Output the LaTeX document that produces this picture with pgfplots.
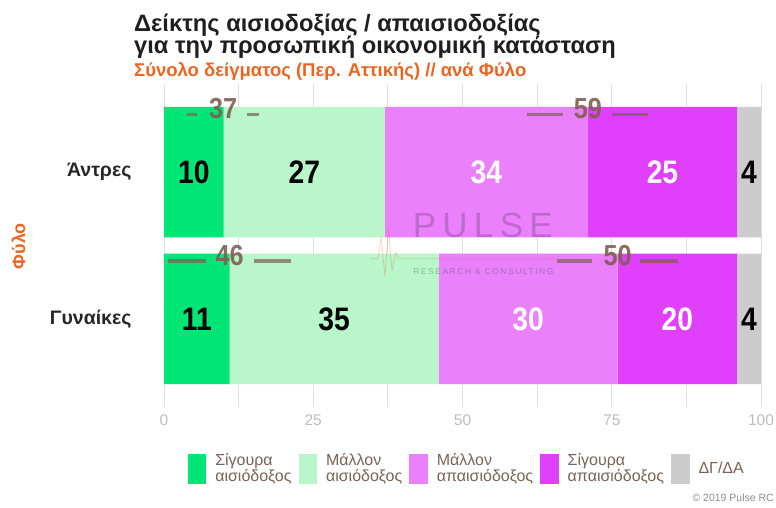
\documentclass[border=0pt]{standalone}
\usepackage{fontspec}
\setmainfont{Liberation Sans}
\newfontfamily\numfont{Liberation Sans}[FakeStretch=0.87]
\newfontfamily\wmfont{Liberation Sans}[LetterSpace=18]
\usepackage{pgfplots}
\pgfplotsset{compat=1.18}

\definecolor{gSure}{HTML}{00E676}
\definecolor{gMaybe}{HTML}{B9F6CA}
\definecolor{pMaybe}{HTML}{EA80FC}
\definecolor{pSure}{HTML}{E040FB}
\definecolor{dkna}{HTML}{CCCCCC}
\definecolor{orng}{HTML}{EB6420}
\definecolor{brn}{HTML}{7D5F52}
\definecolor{legtxt}{HTML}{7A6258}
\definecolor{ticktxt}{HTML}{BDBDBD}

\pgfplotsset{patch/.style={legend image code/.code={\fill[#1] (0pt,-15pt) rectangle (18.5pt,15pt);}}}
\tikzset{val/.style={font=\numfont\bfseries\fontsize{32.5}{33}\selectfont},
  net/.style={text=brn,opacity=0.9,font=\numfont\bfseries\fontsize{29}{29}\selectfont},
  netline/.style={brn,opacity=0.7,line width=3.5pt}}

\begin{document}
\begin{tikzpicture}[x=1pt,y=1pt]
\path[use as bounding box] (0,0) rectangle (776,507);

% titles
\node[anchor=base west,inner sep=0pt,font=\bfseries\fontsize{23.7}{28}\selectfont,text=black!88] at (134,475.3) {Δείκτης αισιοδοξίας / απαισιοδοξίας};
\node[anchor=base west,inner sep=0pt,font=\bfseries\fontsize{23.7}{28}\selectfont,text=black!88] at (134,453.5) {για την προσωπική οικονομική κατάσταση};
\node[anchor=base west,inner sep=0pt,font=\bfseries\fontsize{18.5}{20}\selectfont,text=orng] at (134,430.3) {Σύνολο δείγματος (Περ. Αττικής) // ανά Φύλο};

\begin{axis}[
  at={(164pt,100pt)}, anchor=south west,
  scale only axis, width=597pt, height=323pt,
  xbar stacked, bar width=0.89,
  xmin=0, xmax=100, ymin=-0.6, ymax=1.6,
  ytick={0,1}, yticklabels={Γυναίκες,Άντρες},
  xtick={0,25,50,75,100}, minor xtick={12.5,37.5,62.5,87.5},
  xmajorgrids, xminorgrids,
  major grid style={draw=black!12,line width=0.8pt},
  minor grid style={draw=black!12,line width=0.8pt},
  axis line style={draw=none}, tick style={draw=none},
  /pgf/number format/assume math mode=true,
  xticklabel style={font=\fontsize{15.5}{18}\selectfont,text=ticktxt,yshift=-4pt},
  yticklabel style={font=\bfseries\fontsize{19.5}{22}\selectfont,text=black!85,xshift=-29pt},
  ylabel={Φύλο},
  every axis y label/.style={at={(axis description cs:-0.2437,0.498)},rotate=90,anchor=center,
    font=\bfseries\fontsize{18}{20}\selectfont,text=orng},
  legend columns=5,
  legend cell align=left,
  legend style={at={(0.0395,-0.138)}, anchor=north west, draw=none, fill=none,
    inner sep=0pt, font=\fontsize{16}{16}\selectfont, text=legtxt,
    cells={align=left,inner sep=0.5pt},
    /tikz/every odd column/.append style={column sep=7pt},
    /tikz/every even column/.append style={column sep=5pt}},
]
\addplot[fill=gSure,draw=none,patch=gSure] coordinates {(10,1) (11,0)};
\addlegendentry{Σίγουρα\\αισιόδοξος}
\addplot[fill=gMaybe,draw=none,patch=gMaybe] coordinates {(27,1) (35,0)};
\addlegendentry{Μάλλον\\αισιόδοξος}
\addplot[fill=pMaybe,draw=none,patch=pMaybe] coordinates {(34,1) (30,0)};
\addlegendentry{Μάλλον\\απαισιόδοξος}
\addplot[fill=pSure,draw=none,patch=pSure] coordinates {(25,1) (20,0)};
\addlegendentry{Σίγουρα\\απαισιόδοξος}
\addplot[fill=dkna,draw=none,patch=dkna] coordinates {(4,1) (4,0)};
\addlegendentry{ΔΓ/ΔΑ}

% anchors for the labels drawn on top after the axis
\coordinate (wm1) at (axis cs:53.4,0.636);
\coordinate (wm2) at (axis cs:53.5,0.32);
\coordinate (p0) at (axis cs:34.5,0.41);
\coordinate (p1) at (axis cs:35.8,0.41);
\coordinate (p2) at (axis cs:36.4,0.55);
\coordinate (p3) at (axis cs:37.0,0.29);
\coordinate (p4) at (axis cs:37.6,0.61);
\coordinate (p5) at (axis cs:38.2,0.33);
\coordinate (p6) at (axis cs:38.8,0.45);
\coordinate (p7) at (axis cs:39.4,0.41);
\coordinate (p8) at (axis cs:65.5,0.41);
\coordinate (a1) at (axis cs:5,1);
\coordinate (a2) at (axis cs:23.5,1);
\coordinate (a3) at (axis cs:54,1);
\coordinate (a4) at (axis cs:83.5,1);
\coordinate (a5) at (axis cs:98,1);
\coordinate (b1) at (axis cs:5.5,0);
\coordinate (b2) at (axis cs:28.5,0);
\coordinate (b3) at (axis cs:61,0);
\coordinate (b4) at (axis cs:86,0);
\coordinate (b5) at (axis cs:98,0);
\coordinate (na) at (axis cs:9.9,1.433);
\coordinate (nb) at (axis cs:71.0,1.433);
\coordinate (nc) at (axis cs:11.0,0.433);
\coordinate (nd) at (axis cs:76.0,0.433);
\coordinate (la1) at (axis cs:3.85,1.393); \coordinate (la2) at (axis cs:5.5,1.393);
\coordinate (la3) at (axis cs:13.9,1.393); \coordinate (la4) at (axis cs:15.9,1.393);
\coordinate (lb1) at (axis cs:60.8,1.393); \coordinate (lb2) at (axis cs:66.8,1.393);
\coordinate (lb3) at (axis cs:75.0,1.393); \coordinate (lb4) at (axis cs:81.1,1.393);
\coordinate (lc1) at (axis cs:0.7,0.393); \coordinate (lc2) at (axis cs:7.0,0.393);
\coordinate (lc3) at (axis cs:15.0,0.393); \coordinate (lc4) at (axis cs:21.2,0.393);
\coordinate (ld1) at (axis cs:65.8,0.393); \coordinate (ld2) at (axis cs:71.7,0.393);
\coordinate (ld3) at (axis cs:79.8,0.393); \coordinate (ld4) at (axis cs:86.1,0.393);
\end{axis}

% watermark
\node[text=black,opacity=0.18,font=\wmfont\fontsize{35}{35}\selectfont] at (wm1) {PULSE};
\node[text=black!70!green,opacity=0.3,font=\wmfont\fontsize{8.5}{9}\selectfont] at (wm2) {RESEARCH \& CONSULTING};
\draw[orng,opacity=0.3,line width=0.7pt] (p0) -- (p1) -- (p2) -- (p3) -- (p4) -- (p5) -- (p6) -- (p7) -- (p8);

% segment values
\node[val,text=black] at (a1) {10};
\node[val,text=black] at (a2) {27};
\node[val,text=white] at (a3) {34};
\node[val,text=white] at (a4) {25};
\node[val,text=black] at (a5) {4};
\node[val,text=black] at (b1) {11};
\node[val,text=black] at (b2) {35};
\node[val,text=white] at (b3) {30};
\node[val,text=white] at (b4) {20};
\node[val,text=black] at (b5) {4};

% net scores
\draw[netline] (la1) -- (la2) (la3) -- (la4) (lb1) -- (lb2) (lb3) -- (lb4)
  (lc1) -- (lc2) (lc3) -- (lc4) (ld1) -- (ld2) (ld3) -- (ld4);
\node[net] at (na) {37};
\node[net] at (nb) {59};
\node[net] at (nc) {46};
\node[net] at (nd) {50};

\node[anchor=base east,inner sep=0pt,text=black!45,font=\fontsize{10.5}{12}\selectfont] at (774,6) {© 2019 Pulse RC};
\end{tikzpicture}
\end{document}
